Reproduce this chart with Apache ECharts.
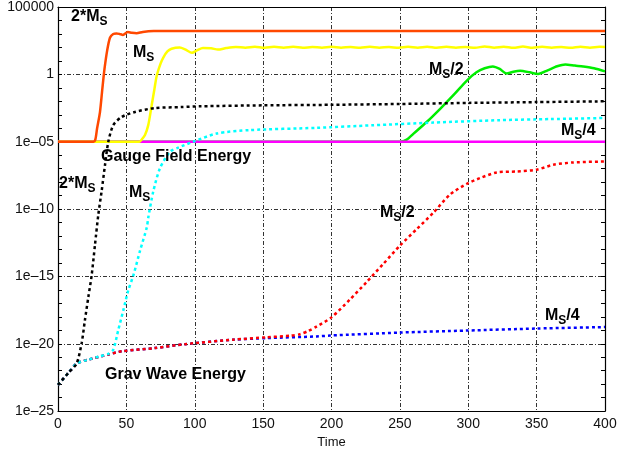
<!DOCTYPE html>
<html>
<head>
<meta charset="utf-8">
<script src="https://cdn.jsdelivr.net/npm/echarts@6/dist/echarts.min.js"></script>
<style>html,body{margin:0;padding:0;background:#fff}#c{width:621px;height:454px}</style>
</head>
<body>
<div id="c"></div>
<script>
// Values are [Time, log10(energy)] (y axis is logarithmic: drawn on log10 values)
const gauge2Ms = [[0,-5],[26,-5],[27.3,-4.85],[28.6,-4.0],[30.7,-2.8],[32.5,-1.0],[34,0.4],[36,1.8],[38,2.72],[40.4,3.0],[42.9,3.04],[45,3.0],[47.5,2.93],[51,3.14],[54,3.08],[57.5,3.05],[62,3.15],[70,3.21],[100,3.22],[150,3.21],[200,3.21],[250,3.21],[300,3.21],[350,3.21],[400,3.21]];
const gaugeMs = [[0,-5],[59.5,-5],[61.5,-4.8],[63.6,-4.5],[66,-3.77],[68.5,-2.3],[70.5,-1.1],[72.2,-0.1],[75,0.8],[77,1.25],[80,1.7],[83,1.9],[89,1.99],[93,1.85],[98,1.6],[102,1.8],[106,1.95],[112,1.93],[117,1.84],[123,1.95],[130,2.03],[137,1.98],[144,2.05],[151,1.97],[158,2.04],[165,1.98],[172,2.04],[179,1.97],[186,2.03],[193,1.98],[200,2.04],[207,1.98],[214,2.03],[221,1.97],[228,2.04],[235,1.98],[242,2.03],[249,1.97],[256,2.04],[263,1.98],[270,2.05],[277,1.97],[284,2.04],[291,1.98],[298,2.03],[305,1.97],[312,2.07],[319,1.98],[326,2.05],[333,1.97],[340,2.06],[347,1.97],[354,2.04],[361,1.98],[368,2.03],[375,1.97],[382,2.05],[389,1.98],[396,2.05],[400,2.03]];
const gaugeMs2 = [[0,-5],[250,-5],[255,-4.85],[260,-4.4],[270,-3.5],[280,-2.5],[290,-1.45],[299,-0.46],[306,0.15],[312,0.45],[318,0.59],[323,0.4],[328,0.06],[333,0.2],[338,0.27],[345,0.15],[351,0.03],[358,0.3],[365,0.6],[371,0.74],[378,0.65],[384,0.58],[392,0.45],[400,0.22]];
const gaugeMs4 = [[0,-5],[400,-5]];
const gw2Ms = [[0,-23.05],[7.6,-22.16],[13.6,-21.47],[17.3,-19.95],[19.7,-18.24],[22.2,-16.52],[24.6,-14.93],[27.1,-12.6],[29.5,-10.4],[31.9,-8.68],[34.4,-6.71],[36.8,-5.0],[40.4,-3.77],[46.6,-3.16],[56.3,-2.79],[70.9,-2.5],[90.4,-2.43],[104,-2.37],[150,-2.3],[200,-2.26],[250,-2.2],[300,-2.12],[350,-2.06],[400,-2.0]];
const gwMs = [[0,-23.05],[7.6,-22.16],[13.6,-21.47],[22.2,-21.18],[30.7,-20.93],[36.8,-20.75],[40.4,-20.44],[44.1,-18.97],[47.8,-17.5],[51.4,-16.03],[55.1,-14.93],[60,-13.09],[64.9,-11.38],[66,-10.64],[69.7,-8.68],[74.6,-6.96],[81.9,-5.74],[88,-5.44],[98.9,-5.0],[116,-4.39],[140,-4.14],[189,-3.97],[230,-3.78],[274.5,-3.58],[323,-3.4],[360,-3.32],[400,-3.24]];
const gwMs2 = [[0,-23.05],[7.6,-22.16],[13.6,-21.47],[22.2,-21.18],[36.8,-20.8],[46.6,-20.56],[70.9,-20.32],[92.9,-20.03],[128,-19.7],[152.6,-19.52],[170,-19.4],[177,-19.29],[183,-19.05],[189,-18.73],[200,-18.04],[213.5,-16.71],[225.7,-15.42],[237.9,-14.07],[250,-12.72],[262.3,-11.49],[274.5,-10.27],[286.7,-8.92],[298.8,-8.14],[308.6,-7.7],[320.8,-7.28],[335.4,-7.21],[350,-7.08],[362.2,-6.71],[376.8,-6.54],[400,-6.47]];
const gwMs4 = [[0,-23.05],[7.6,-22.16],[13.6,-21.47],[22.2,-21.18],[36.8,-20.8],[46.6,-20.56],[70.9,-20.32],[92.9,-20.03],[128,-19.7],[152.6,-19.58],[189,-19.46],[198.9,-19.39],[250,-19.17],[298.8,-19.02],[350,-18.87],[400,-18.76]];
const xTicks = [0,50,100,150,200,250,300,350,400];
const yTickLabels = {'-25':'1e\u201325','-20':'1e\u201320','-15':'1e\u201315','-10':'1e\u201310','-5':'1e\u201305','0':'1','5':'100000'};

const gridDash = [4,2,1,2];
const chart = echarts.init(document.getElementById('c'), null, {renderer:'canvas'});
const FONT = "'Liberation Sans', Arial, Helvetica, sans-serif";

function solid(name, data, color){
  return {name, type:'line', data, showSymbol:false, smooth:0.25,
    lineStyle:{color, width:2.5}, itemStyle:{color}, animation:false};
}
function dotted(name, data, color){
  return {name, type:'line', data, showSymbol:false, smooth:0.25,
    lineStyle:{color, width:2.5, type:[3,3]}, itemStyle:{color}, animation:false};
}

const richBase = {
  m:{fontSize:16, fontWeight:'bold', fontFamily:FONT, color:'#000'},
  s:{fontSize:12, fontWeight:'bold', fontFamily:FONT, color:'#000', verticalAlign:'top', padding:[9,0,0,0]},
  n:{fontSize:16, fontWeight:'bold', fontFamily:FONT, color:'#000'}
};
function lbl(x, y, text){
  return {type:'text', x, y, z:100, style:{text, rich:richBase, align:'left', verticalAlign:'middle'}};
}
function plain(x, y, text){
  return {type:'text', x, y, z:100, style:{text, fontSize:16, fontWeight:'bold', fontFamily:FONT, fill:'#000', align:'left', verticalAlign:'middle'}};
}

chart.setOption({
  backgroundColor:'#fff',
  animation:false,
  grid:{left:58, right:16, top:4, bottom:42, containLabel:false},
  xAxis:[{
    type:'value', min:0, max:400, interval:50, position:'bottom',
    axisLine:{show:true, onZero:false, lineStyle:{color:'#000', width:1.2}},
    axisTick:{show:false},
    axisLabel:{color:'#111', fontSize:14, fontFamily:FONT, margin:6,
      formatter: v => xTicks.includes(v) ? String(v) : ''},
    splitLine:{show:true, lineStyle:{color:'#333', width:1, type:gridDash}},
    name:'Time', nameLocation:'middle', nameGap:24,
    nameTextStyle:{color:'#111', fontSize:13, fontFamily:FONT}
  },{
    type:'value', min:0, max:400, interval:50, position:'top',
    axisLine:{show:true, onZero:false, lineStyle:{color:'#000', width:1.2}},
    axisTick:{show:false}, axisLabel:{show:false}, splitLine:{show:false}
  }],
  yAxis:[{
    type:'value', min:-25, max:5, interval:5, position:'left',
    axisLine:{show:true, onZero:false, lineStyle:{color:'#000', width:1.2}},
    axisTick:{show:true, inside:true, length:4, lineStyle:{color:'#000'}},
    minorTick:{show:true, splitNumber:5, length:4, lineStyle:{color:'#000'}},
    axisLabel:{color:'#111', fontSize:14, fontFamily:FONT, margin:4,
      formatter: v => yTickLabels[String(v)] || ''},
    splitLine:{show:true, lineStyle:{color:'#333', width:1, type:gridDash}}
  },{
    type:'value', min:-25, max:5, interval:5, position:'right',
    axisLine:{show:true, onZero:false, lineStyle:{color:'#000', width:1.2}},
    axisTick:{show:true, inside:true, length:4, lineStyle:{color:'#000'}},
    minorTick:{show:true, splitNumber:5, length:4, lineStyle:{color:'#000'}},
    axisLabel:{show:false}, splitLine:{show:false}
  }],
  series:[
    solid('Gauge Ms/2', gaugeMs2, '#00ee00'),
    solid('Gauge Ms/4', gaugeMs4, '#ff00ff'),
    solid('Gauge Ms', gaugeMs, '#ffff00'),
    solid('Gauge 2Ms', gauge2Ms, '#ff4800'),
    dotted('GW Ms/4', gwMs4, '#0000ff'),
    dotted('GW Ms/2', gwMs2, '#ff0000'),
    dotted('GW Ms', gwMs, '#00ffff'),
    dotted('GW 2Ms', gw2Ms, '#000000')
  ],
  graphic:[
    lbl(71, 17, '{n|2*M}{s|S}'),
    lbl(133, 53, '{m|M}{s|S}'),
    lbl(429, 70, '{m|M}{s|S}{n|/2}'),
    lbl(561, 131, '{m|M}{s|S}{n|/4}'),
    plain(101, 157, 'Gauge Field Energy'),
    lbl(59, 184, '{n|2*M}{s|S}'),
    lbl(129, 193, '{m|M}{s|S}'),
    lbl(380, 213, '{m|M}{s|S}{n|/2}'),
    lbl(545, 316, '{m|M}{s|S}{n|/4}'),
    plain(105, 375, 'Grav Wave Energy')
  ]
});
</script>
</body>
</html>
